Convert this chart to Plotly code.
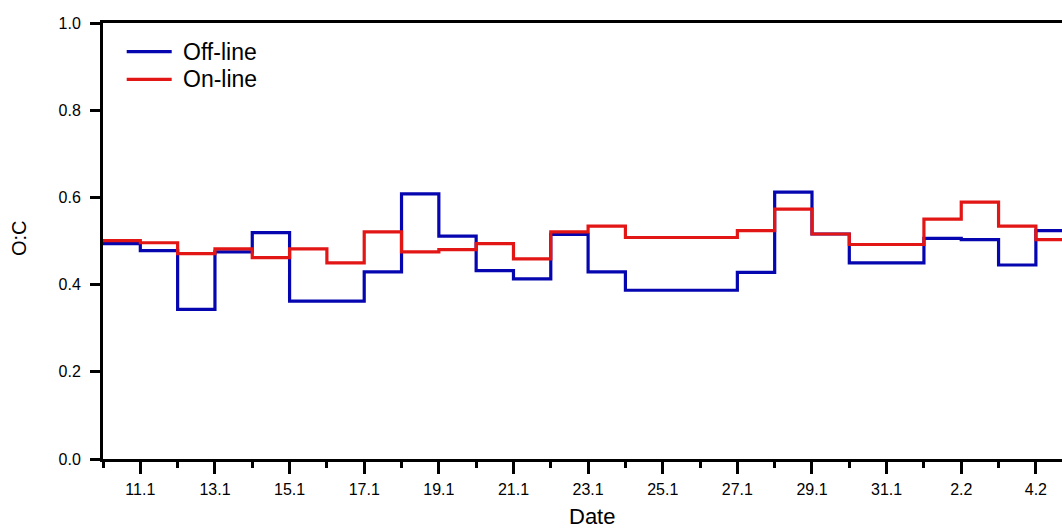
import plotly.graph_objects as go

# Daily O:C ratios, one value per day starting 10 January
day_labels = ["10.1", "11.1", "12.1", "13.1", "14.1", "15.1", "16.1", "17.1", "18.1",
              "19.1", "20.1", "21.1", "22.1", "23.1", "24.1", "25.1", "26.1", "27.1",
              "28.1", "29.1", "30.1", "31.1", "1.2", "2.2", "3.2", "4.2", "5.2"]

offline = [0.494, 0.478, 0.343, 0.475, 0.519, 0.362, 0.362, 0.429, 0.608, 0.511,
           0.432, 0.413, 0.515, 0.429, 0.387, 0.387, 0.387, 0.428, 0.612, 0.516,
           0.450, 0.450, 0.506, 0.503, 0.445, 0.524]

online = [0.501, 0.496, 0.471, 0.482, 0.462, 0.482, 0.450, 0.521, 0.475, 0.480,
          0.494, 0.459, 0.521, 0.534, 0.508, 0.508, 0.508, 0.524, 0.573, 0.516,
          0.492, 0.492, 0.550, 0.589, 0.534, 0.503]

tick_labels = ["11.1", "13.1", "15.1", "17.1", "19.1", "21.1", "23.1",
               "25.1", "27.1", "29.1", "31.1", "2.2", "4.2"]

y_ticks = [0.0, 0.2, 0.4, 0.6, 0.8, 1.0]

BLUE = "#0606b0"
RED = "#e31616"
FONT = "Liberation Sans, Arial, sans-serif"

# each value holds for one day: step edges run from day i to day i+1
edges = list(range(len(offline) + 1))
tick_vals = [day_labels.index(t) for t in tick_labels]

fig = go.Figure()
fig.add_trace(go.Scatter(x=edges, y=offline + [offline[-1]], mode="lines",
                         line=dict(color=BLUE, width=3.2, shape="hv"), name="Off-line"))
fig.add_trace(go.Scatter(x=edges, y=online + [online[-1]], mode="lines",
                         line=dict(color=RED, width=3.2, shape="hv"), name="On-line"))

fig.update_layout(
    width=1062, height=531,
    margin=dict(l=103, r=0, t=23, b=72),
    plot_bgcolor="white", paper_bgcolor="white",
    showlegend=False,
    font=dict(family=FONT, color="black"),
)

fig.update_xaxes(
    range=[0, 25.7],
    tickmode="array", tickvals=tick_vals, ticktext=tick_labels,
    ticks="outside", ticklen=12, tickwidth=3, tickcolor="black",
    tickfont=dict(size=16, family=FONT), ticklabelstandoff=2,
    minor=dict(dtick=1, tick0=0, ticks="outside", ticklen=6, tickwidth=3, tickcolor="black"),
    showline=True, linecolor="black", linewidth=3, mirror=True,
    showgrid=False, zeroline=False,
)

fig.update_yaxes(
    range=[0, 1],
    tickmode="array", tickvals=y_ticks, ticktext=[f"{v:.1f}" for v in y_ticks],
    ticks="outside", ticklen=10, tickwidth=3, tickcolor="black",
    tickfont=dict(size=16, family=FONT), ticklabelstandoff=6,
    showline=True, linecolor="black", linewidth=3,
    showgrid=False, zeroline=False,
)

# axis titles
fig.add_annotation(text="Date", xref="paper", yref="paper", x=0.5096, y=(459 - 516) / 436,
                   xanchor="center", yanchor="middle", showarrow=False,
                   font=dict(size=22, family=FONT))
fig.add_annotation(text="O:C", xref="paper", yref="paper", x=-0.088, y=0.5057,
                   xanchor="center", yanchor="middle", showarrow=False, textangle=-90,
                   font=dict(size=20, family=FONT))

# legend: short line sample plus label for each series
for i, (name, color) in enumerate([("Off-line", BLUE), ("On-line", RED)]):
    ypix = 51.7 + i * 27.6
    yp = (459 - ypix) / 436
    fig.add_shape(type="line", xref="paper", yref="paper",
                  x0=(126.7 - 103) / 959, x1=(171.7 - 103) / 959, y0=yp, y1=yp,
                  line=dict(color=color, width=3.2))
    fig.add_annotation(text=name, xref="paper", yref="paper",
                       x=(181 - 103) / 959, y=yp, xanchor="left", yanchor="middle",
                       showarrow=False, font=dict(size=23, family=FONT))

fig.write_html("out.html")
